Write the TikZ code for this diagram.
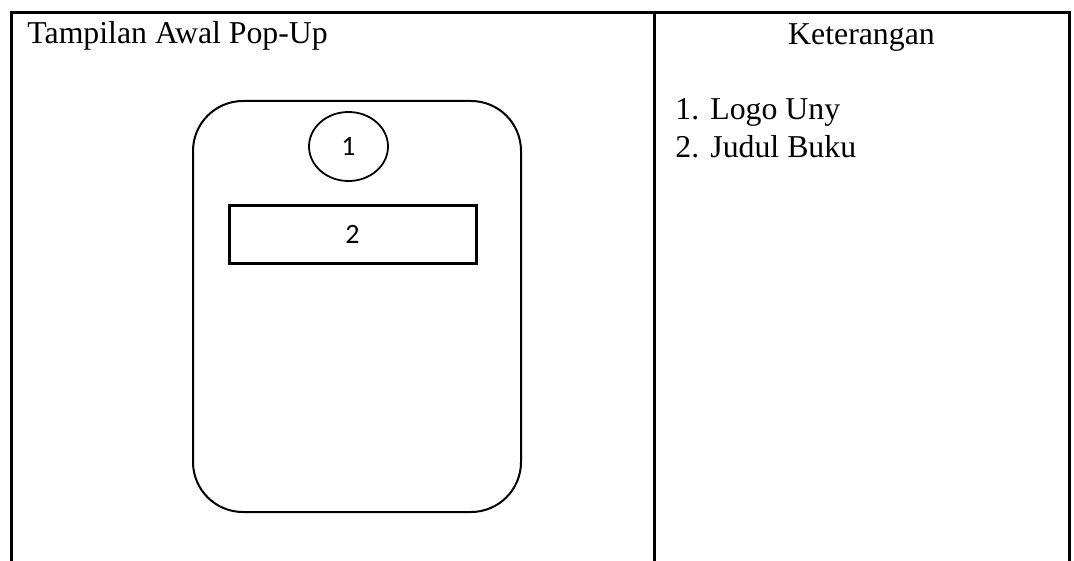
\documentclass[tikz,border=0pt]{standalone}
\usepackage{fontspec}
\setmainfont{Liberation Serif}
\newfontfamily\calibrifont{Carlito}
\usetikzlibrary{positioning, shapes.geometric}

\begin{document}
\begin{tikzpicture}[
    x=0.5pt, y=0.5pt,
    frame/.style={line width=1.5pt},
    screen/.style={line width=1pt, rounded corners=25pt},
    part/.style={draw, inner sep=0pt, font=\calibrifont\fontsize{14}{16}\selectfont},
    head_text/.style={font=\fontsize{15.9}{19}\selectfont, inner sep=0pt}
]
    \useasboundingbox (0,0) rectangle (1074,-561);

    % === 1. Table frame ===
    \draw[frame] (11.5,-561) -- (11.5,-12.5) -- (1069,-12.5) -- (1069,-561);
    \draw[frame] (654.5,-12.5) -- (654.5,-561);

    % === 2. Column headers ===
    \node[head_text, anchor=base west] (title) at (27,-44) {Tampilan Awal Pop-Up};
    \node[head_text, anchor=base] (ket) at (861.5,-45) {Keterangan};

    % === 3. Pop-up screen ===
    \draw[screen] (193,-101) rectangle (521,-512);

    % Logo and title box
    \node[part, ellipse, minimum width=39.5pt, minimum height=34.5pt, line width=0.9pt] (logo) at (348.5,-146.5) {1};
    \node[part, rectangle, minimum width=123.5pt, minimum height=29pt, line width=1.5pt] (judul) at (352.5,-234.5) {2};

    % === 4. Keterangan list ===
    \node[head_text, anchor=base west] (item1) at (675,-120) {\makebox[17.5pt][l]{1.}Logo Uny};
    \node[head_text, anchor=base west] (item2) at (675,-158) {\makebox[17.5pt][l]{2.}Judul Buku};

\end{tikzpicture}
\end{document}
